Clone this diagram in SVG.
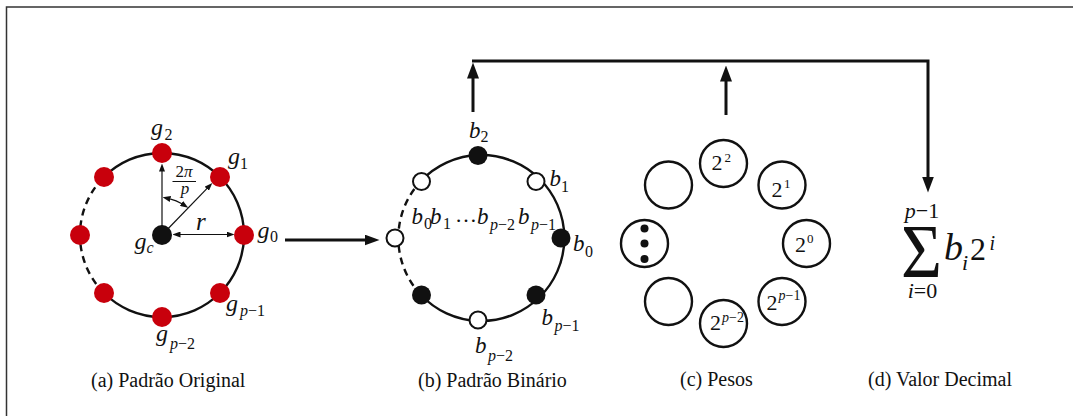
<svg xmlns="http://www.w3.org/2000/svg" width="1073" height="416" viewBox="0 0 1073 416">
  <style>
    .t { font-family: "Liberation Serif", "Times New Roman", serif; fill: #111; }
    .it { font-style: italic; }
    .ring { fill: none; stroke: #111; stroke-width: 2.4; }
    .dash { stroke-dasharray: 7 5; }
    .red { fill: #c8000c; }
    .blk { fill: #111; }
    .wht { fill: #fff; stroke: #111; stroke-width: 2; }
    .wcirc { fill: #fff; stroke: #111; stroke-width: 2.4; }
    .thin { fill: none; stroke: #111; stroke-width: 1.2; }
    .conn { fill: none; stroke: #111; stroke-width: 3; }
    .cap { font-size: 20px; }
  </style>
  <defs>
    <marker id="head" markerUnits="userSpaceOnUse" markerWidth="16" markerHeight="12" refX="0.5" refY="6" orient="auto">
      <path d="M0,0 L16,6 L0,12 z" fill="#111"/>
    </marker>
    <marker id="head2" markerUnits="userSpaceOnUse" markerWidth="15" markerHeight="11" refX="0.5" refY="5.5" orient="auto">
      <path d="M0,0 L15,5.5 L0,11 z" fill="#111"/>
    </marker>
    <marker id="tip" markerUnits="userSpaceOnUse" markerWidth="8" markerHeight="6" refX="0.5" refY="3" orient="auto-start-reverse">
      <path d="M0,0 L8,3 L0,6 z" fill="#111"/>
    </marker>
  </defs>

  <!-- outer frame: top and left edges only -->
  <path d="M6.5,416 V7 H1073" fill="none" stroke="#333" stroke-width="1.5"/>

  <!-- (a) original pattern -->
  <g id="original">
    <path class="ring" d="M104,177 A82,82 0 1 1 104,293"/>
    <path class="ring dash" d="M104,293 A82,82 0 0 1 104,177"/>
    <!-- radius and angle indicators -->
    <line class="thin" x1="162" y1="235" x2="162" y2="171" marker-end="url(#tip)"/>
    <line class="thin" x1="162" y1="235" x2="207.1" y2="188.4" marker-end="url(#tip)"/>
    <line class="thin" x1="180" y1="234.5" x2="227" y2="234.5" marker-start="url(#tip)" marker-end="url(#tip)"/>
    <path class="thin" d="M169.9,198.9 A37,37 0 0 1 181.9,203.8" marker-start="url(#tip)" marker-end="url(#tip)"/>
    <!-- neighbour samples -->
    <circle class="red" cx="244" cy="235" r="10"/>
    <circle class="red" cx="220" cy="177" r="10"/>
    <circle class="red" cx="162" cy="153" r="10"/>
    <circle class="red" cx="104" cy="177" r="10"/>
    <circle class="red" cx="80" cy="235" r="10"/>
    <circle class="red" cx="104" cy="293" r="10"/>
    <circle class="red" cx="162" cy="317" r="10"/>
    <circle class="red" cx="220" cy="293" r="10"/>
    <circle class="blk" cx="162" cy="235" r="10"/>
    <!-- labels -->
    <text class="t" font-size="17" x="184" y="177" text-anchor="middle">2<tspan class="it">π</tspan></text>
    <line x1="172.5" y1="181.5" x2="196" y2="181.5" stroke="#111" stroke-width="1"/>
    <text class="t it" font-size="17" x="185" y="193.5" text-anchor="middle">p</text>
    <text class="t it" font-size="25" x="196" y="230">r</text>
    <text class="t it" font-size="24" x="151" y="135">g</text>
    <text class="t" font-size="16" x="164.5" y="140">2</text>
    <text class="t it" font-size="24" x="228" y="164">g</text>
    <text class="t" font-size="16" x="240" y="169">1</text>
    <text class="t it" font-size="24" x="257.5" y="238">g</text>
    <text class="t" font-size="16" x="270" y="242">0</text>
    <text class="t it" font-size="24" x="134.5" y="249">g</text>
    <text class="t it" font-size="16" x="146.5" y="253">c</text>
    <text class="t it" font-size="24" x="226" y="311">g</text>
    <text class="t" font-size="16" x="240" y="316"><tspan class="it">p</tspan>−1</text>
    <text class="t it" font-size="24" x="156" y="341">g</text>
    <text class="t" font-size="16" x="170" y="349"><tspan class="it">p</tspan>−2</text>
  </g>

  <!-- (b) binary pattern -->
  <g id="binary">
    <path class="ring" d="M421,181 A83,83 0 1 1 421,295"/>
    <path class="ring dash" d="M421,295 A83,83 0 0 1 421,181"/>
    <circle class="blk" cx="561" cy="238" r="9.5"/>
    <circle class="wht" cx="536" cy="181.5" r="8.5"/>
    <circle class="blk" cx="478" cy="155.5" r="9.5"/>
    <circle class="wht" cx="421.5" cy="181.5" r="8.5"/>
    <circle class="wht" cx="395" cy="238" r="8.5"/>
    <circle class="blk" cx="421.5" cy="295" r="9.5"/>
    <circle class="wht" cx="478" cy="320" r="8.5"/>
    <circle class="blk" cx="536" cy="295" r="9.5"/>
    <!-- labels -->
    <text class="t it" font-size="23" x="469" y="138">b</text>
    <text class="t" font-size="16" x="480.5" y="142">2</text>
    <text class="t it" font-size="23" x="549.5" y="186">b</text>
    <text class="t" font-size="16" x="561" y="192">1</text>
    <text class="t it" font-size="23" x="573" y="251">b</text>
    <text class="t" font-size="16" x="585" y="257">0</text>
    <text class="t it" font-size="23" x="541.5" y="325">b</text>
    <text class="t" font-size="16" x="554.5" y="331"><tspan class="it">p</tspan>−1</text>
    <text class="t it" font-size="23" x="475" y="353">b</text>
    <text class="t" font-size="16" x="488" y="361"><tspan class="it">p</tspan>−2</text>
    <!-- binary string -->
    <text class="t it" font-size="23" x="411.5" y="224">b</text>
    <text class="t" font-size="16" x="424" y="229">0</text>
    <text class="t it" font-size="23" x="430" y="224">b</text>
    <text class="t" font-size="16" x="443" y="229">1</text>
    <text class="t" font-size="22" x="455" y="222">…</text>
    <text class="t it" font-size="23" x="477" y="224">b</text>
    <text class="t" font-size="16" x="490" y="230"><tspan class="it">p</tspan>−2</text>
    <text class="t it" font-size="23" x="518" y="224">b</text>
    <text class="t" font-size="16" x="531" y="230"><tspan class="it">p</tspan>−1</text>
  </g>

  <!-- (c) weights -->
  <g id="weights">
    <circle class="wcirc" cx="806.5" cy="243.5" r="23.5"/>
    <circle class="wcirc" cx="782" cy="185" r="23.5"/>
    <circle class="wcirc" cx="723.5" cy="163.5" r="23.5"/>
    <circle class="wcirc" cx="668.5" cy="185" r="23.5"/>
    <circle class="wcirc" cx="644.5" cy="243.5" r="23.5"/>
    <circle class="wcirc" cx="668.5" cy="301.5" r="23.5"/>
    <circle class="wcirc" cx="723.5" cy="323.5" r="23.5"/>
    <circle class="wcirc" cx="782" cy="301.5" r="23.5"/>
    <circle class="blk" cx="644.5" cy="228.5" r="4"/>
    <circle class="blk" cx="644.5" cy="243.5" r="4"/>
    <circle class="blk" cx="644.5" cy="259" r="4"/>
    <text class="t" font-size="22" x="711.5" y="170">2</text>
    <text class="t" font-size="13" x="724.5" y="162">2</text>
    <text class="t" font-size="22" x="771.5" y="197">2</text>
    <text class="t" font-size="13" x="784" y="188">1</text>
    <text class="t" font-size="22" x="795" y="252">2</text>
    <text class="t" font-size="13" x="807" y="243">0</text>
    <text class="t" font-size="22" x="766.5" y="310">2</text>
    <text class="t" font-size="14" x="778.5" y="300"><tspan class="it">p</tspan>−1</text>
    <text class="t" font-size="22" x="710" y="330">2</text>
    <text class="t" font-size="14" x="722" y="322"><tspan class="it">p</tspan>−2</text>
  </g>

  <!-- (d) decimal value -->
  <g id="decimal">
    <text class="t it" font-size="22" x="922" y="218" text-anchor="middle">p<tspan font-style="normal">−1</tspan></text>
    <text class="t" font-size="76" x="901" y="276.5" textLength="41" lengthAdjust="spacingAndGlyphs">Σ</text>
    <text class="t it" font-size="22" x="922.5" y="298" text-anchor="middle">i<tspan font-style="normal">=0</tspan></text>
    <text class="t it" font-size="38" x="944" y="260">b</text>
    <text class="t it" font-size="22" x="962" y="270">i</text>
    <text class="t" font-size="32" x="970" y="260">2</text>
    <text class="t it" font-size="20" x="989.5" y="250">i</text>
  </g>

  <!-- captions -->
  <g id="captions">
    <text class="t cap" x="91" y="387">(a) Padrão Original</text>
    <text class="t cap" x="418" y="387">(b) Padrão Binário</text>
    <text class="t cap" x="680" y="386">(c) Pesos</text>
    <text class="t cap" x="868" y="386">(d) Valor Decimal</text>
  </g>

  <!-- connectors -->
  <g id="connectors">
    <line class="conn" x1="285" y1="240" x2="365" y2="240" marker-end="url(#head2)"/>
    <line class="conn" x1="473" y1="112" x2="473" y2="78" stroke-width="2.2" marker-end="url(#head)"/>
    <line class="conn" x1="726" y1="115" x2="726" y2="81" marker-end="url(#head)"/>
    <path class="conn" d="M472,61 H928 V177" marker-end="url(#head)"/>
  </g>
</svg>
